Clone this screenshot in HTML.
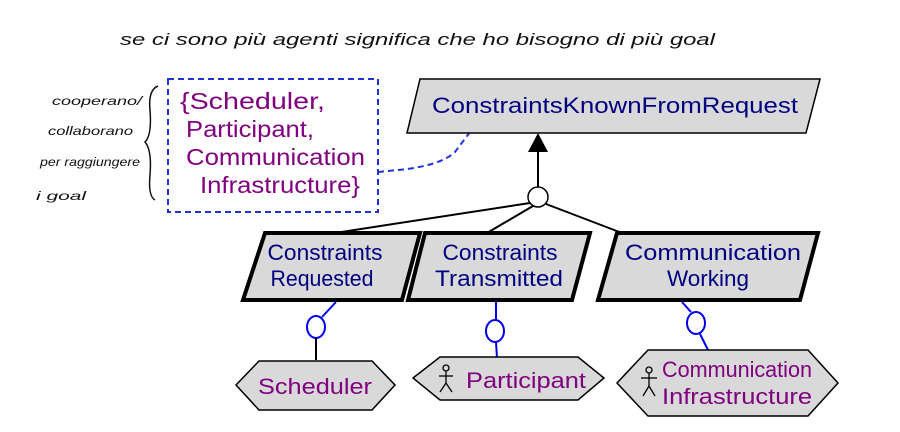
<!DOCTYPE html>
<html><head><meta charset="utf-8"><style>
html,body{margin:0;padding:0;background:#fff;}
svg{display:block;}
text{font-family:"Liberation Sans",sans-serif;}
.hw{font-family:"Liberation Sans",sans-serif;font-style:italic;fill:#111;font-weight:normal;}
</style></head><body>
<svg width="900" height="432" viewBox="0 0 900 432" xmlns="http://www.w3.org/2000/svg">
<!-- handwriting -->
<text class="hw" x="120" y="45" font-size="17" textLength="595" lengthAdjust="spacingAndGlyphs">se ci sono più agenti significa che ho bisogno di più goal</text>
<text class="hw" x="52" y="105" font-size="12" textLength="90" lengthAdjust="spacingAndGlyphs">cooperano/</text>
<text class="hw" x="48" y="135" font-size="12" textLength="85" lengthAdjust="spacingAndGlyphs">collaborano</text>
<text class="hw" x="40" y="166" font-size="12" textLength="100" lengthAdjust="spacingAndGlyphs">per raggiungere</text>
<text class="hw" x="36" y="200" font-size="12" textLength="50" lengthAdjust="spacingAndGlyphs">i goal</text>
<path d="M158 86 Q148 90 150 110 Q152 135 145 142 Q152 150 150 175 Q148 196 155 200" fill="none" stroke="#111" stroke-width="1.5"/>

<!-- dashed box -->
<rect x="168" y="79" width="210" height="133" fill="none" stroke="#2233dd" stroke-width="2" stroke-dasharray="6,4"/>
<g fill="#800080" font-size="23" lengthAdjust="spacingAndGlyphs">
<text x="180" y="109" textLength="145" lengthAdjust="spacingAndGlyphs">{Scheduler,</text>
<text x="186" y="137" textLength="128" lengthAdjust="spacingAndGlyphs">Participant,</text>
<text x="186" y="165" textLength="179" lengthAdjust="spacingAndGlyphs">Communication</text>
<text x="200" y="193" textLength="160" lengthAdjust="spacingAndGlyphs">Infrastructure}</text>
</g>
<path d="M378 172 L398 170 Q440 166 455 152 L470 132" fill="none" stroke="#2233dd" stroke-width="2" stroke-dasharray="6,4"/>

<!-- top goal -->
<polygon points="420,79 820,79 806,133 407,133" fill="#d9d9d9" stroke="#000" stroke-width="1.5"/>
<text x="432" y="113" font-size="22" fill="#000080" textLength="366" lengthAdjust="spacingAndGlyphs">ConstraintsKnownFromRequest</text>

<!-- refinement -->
<line x1="538" y1="187" x2="538" y2="150" stroke="#000" stroke-width="2"/>
<polygon points="538,133 528,152 548,152" fill="#000"/>
<line x1="530" y1="203" x2="335" y2="233" stroke="#000" stroke-width="2"/>
<line x1="533" y1="206" x2="487" y2="233" stroke="#000" stroke-width="2"/>
<line x1="546" y1="204" x2="622" y2="233" stroke="#000" stroke-width="2"/>
<circle cx="538" cy="197" r="10" fill="#fff" stroke="#000" stroke-width="1.5"/>

<!-- subgoals -->
<g fill="#d9d9d9" stroke="#000" stroke-width="4">
<polygon points="265,233 420,233 402,300 243,300"/>
<polygon points="425,233 590,233 572,300 408,300"/>
<polygon points="617,233 818,233 800,300 598,300"/>
</g>
<g fill="#000080" font-size="22" text-anchor="middle">
<text x="325" y="260" textLength="115" lengthAdjust="spacingAndGlyphs">Constraints</text>
<text x="322" y="286" textLength="103" lengthAdjust="spacingAndGlyphs">Requested</text>
<text x="500" y="260" textLength="115" lengthAdjust="spacingAndGlyphs">Constraints</text>
<text x="499" y="286" textLength="128" lengthAdjust="spacingAndGlyphs">Transmitted</text>
<text x="713" y="260" textLength="176" lengthAdjust="spacingAndGlyphs">Communication</text>
<text x="708" y="286" textLength="82" lengthAdjust="spacingAndGlyphs">Working</text>
</g>

<!-- responsibility links -->
<g stroke="#0000ee" stroke-width="2" fill="#fff">
<line x1="336" y1="302" x2="322" y2="317"/>
<ellipse cx="316" cy="327" rx="9" ry="11"/>
<line x1="496" y1="302" x2="496" y2="320"/>
<ellipse cx="495" cy="331" rx="9" ry="11"/>
<line x1="496" y1="342" x2="497" y2="358"/>
<line x1="682" y1="302" x2="691" y2="312"/>
<ellipse cx="696" cy="323" rx="9" ry="11"/>
<line x1="700" y1="334" x2="708" y2="350"/>
</g>
<line x1="316" y1="338" x2="316" y2="360" stroke="#000" stroke-width="2"/>

<!-- agents -->
<g fill="#d9d9d9" stroke="#000" stroke-width="1.5">
<polygon points="236,385 259,361 372,361 395,385 372,410 259,410"/>
<polygon points="413,378 440,357 578,357 604,378 578,400 440,400"/>
<polygon points="617,383 648,350 808,350 838,383 808,416 648,416"/>
</g>
<g fill="#800080" font-size="22">
<text x="258" y="394" textLength="114" lengthAdjust="spacingAndGlyphs">Scheduler</text>
<text x="466" y="388" textLength="120" lengthAdjust="spacingAndGlyphs">Participant</text>
<text x="662" y="377" textLength="150" lengthAdjust="spacingAndGlyphs">Communication</text>
<text x="662" y="404" textLength="150" lengthAdjust="spacingAndGlyphs">Infrastructure</text>
</g>
<!-- actor icons -->
<g stroke="#000" stroke-width="1.3" fill="none">
<circle cx="446" cy="368" r="3"/>
<line x1="446" y1="371" x2="446" y2="383"/><line x1="439" y1="376" x2="453" y2="376"/>
<line x1="446" y1="383" x2="440" y2="392"/><line x1="446" y1="383" x2="452" y2="392"/>
<circle cx="649" cy="370" r="3"/>
<line x1="649" y1="373" x2="649" y2="386"/><line x1="641" y1="378" x2="657" y2="378"/>
<line x1="649" y1="386" x2="643" y2="396"/><line x1="649" y1="386" x2="655" y2="396"/>
</g>
</svg>
</body></html>
